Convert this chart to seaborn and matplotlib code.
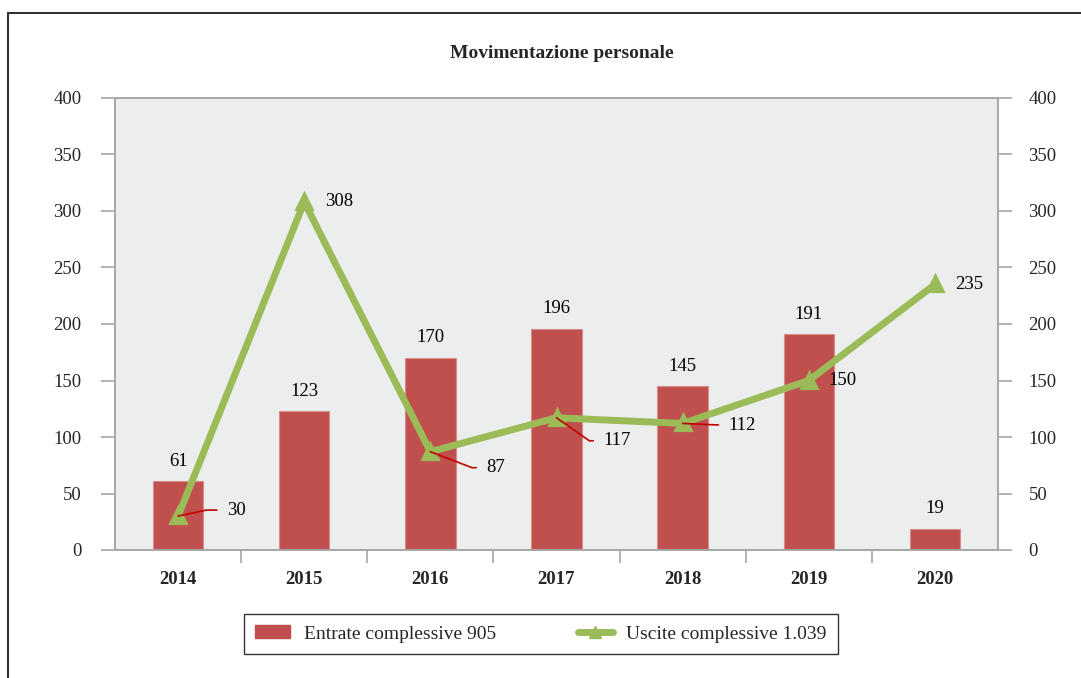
import matplotlib
matplotlib.use("Agg")
import matplotlib.pyplot as plt
import seaborn as sns
import pandas as pd
from matplotlib.lines import Line2D
from matplotlib.patches import Patch

years = ["2014", "2015", "2016", "2017", "2018", "2019", "2020"]
entrate = [61, 123, 170, 196, 145, 191, 19]
uscite = [30, 308, 87, 117, 112, 150, 235]
title = "Movimentazione personale"
label_entrate = "Entrate complessive 905"
label_uscite = "Uscite complessive 1.039"
yticks = [0, 50, 100, 150, 200, 250, 300, 350, 400]

sns.set_theme(style="white")
plt.rcParams["font.family"] = ["Liberation Serif", "DejaVu Serif"]

BAR = "#C0504D"
LINE = "#9BBB59"
GRID = "#A6A6A6"
FS = 13.5

df = pd.DataFrame({"anno": years, "entrate": entrate, "uscite": uscite})

fig = plt.figure(figsize=(10.81, 6.78), dpi=100)
ax = fig.add_axes([115/1081, 1-550/678, (998-115)/1081, (550-98)/678])
ax.set_facecolor("#ECEEED")

sns.barplot(data=df, x="anno", y="entrate", color=BAR, width=0.4, saturation=1,
            edgecolor="#D98C8A", linewidth=0.8, ax=ax, zorder=2)
sns.pointplot(data=df, x="anno", y="uscite", color=LINE, markers="^",
              linewidth=5, markersize=8.5, ax=ax, zorder=3)

ax.set_ylim(0, 400)
ax.set_xlim(-0.5, len(years) - 0.5)
ax.set_yticks(yticks)
ax.set_xlabel("")
ax.set_ylabel("")
for s in ax.spines.values():
    s.set_color(GRID)
    s.set_linewidth(1.2)

ax.tick_params(axis="y", direction="out", length=10, width=1.2, color=GRID,
               labelsize=FS, pad=14, left=True)
ax.tick_params(axis="x", which="major", length=0, labelsize=FS, pad=15)
for t in ax.get_xticklabels():
    t.set_fontweight("bold")
ax.set_xticks([i + 0.5 for i in range(len(years) - 1)], minor=True)
ax.tick_params(axis="x", which="minor", direction="out", length=9, width=1.2,
               color=GRID, bottom=True)

ax2 = ax.twinx()
ax2.set_ylim(0, 400)
ax2.set_yticks(yticks)
ax2.tick_params(axis="y", direction="out", length=10, width=1.2, color=GRID,
                labelsize=FS, pad=12, right=True)
for s in ax2.spines.values():
    s.set_color(GRID)
    s.set_linewidth(1.2)

# bar value labels
for i, v in enumerate(entrate):
    ax.annotate(str(v), (i, v), xytext=(0, 20), textcoords="offset pixels",
                ha="center", va="center", fontsize=FS, color="black")

# line value labels (offsets in pixels, angle of leader)
offsets = [(49, 6, 12), (21, 0, None), (56, -16, -21), (47, -23, -35),
           (46, -2, 0), (20, 0, None), (20, 0, None)]
for i, (v, (dx, dy, ang)) in enumerate(zip(uscite, offsets)):
    if ang is None:
        ax.annotate(str(v), (i, v), xytext=(dx, dy), textcoords="offset pixels",
                    ha="left", va="center", fontsize=FS, color="black", zorder=5)
    else:
        cs = "arc3" if ang == 0 else f"angle,angleA=0,angleB={ang},rad=0"
        ax.annotate(str(v), (i, v), xytext=(dx, dy), textcoords="offset pixels",
                    ha="left", va="center", fontsize=FS, color="black", zorder=5,
                    arrowprops=dict(arrowstyle="-", color="#C00000", lw=1.2,
                                    connectionstyle=cs, shrinkA=5, shrinkB=0,
                                    relpos=(0, 0.5)))

fig.text(562/1081, 1-54/678, title, ha="center", va="center",
         fontsize=14, fontweight="bold")

handles = [Patch(facecolor=BAR, edgecolor=BAR),
           Line2D([0], [0], color=LINE, lw=5, marker="^", markersize=9)]
leg = fig.legend(handles, [label_entrate, label_uscite], loc="center",
                 bbox_to_anchor=(541/1081, 1-634/678), ncol=2, fontsize=14,
                 frameon=True, fancybox=False, edgecolor="black",
                 handlelength=1.8, handleheight=0.6, handletextpad=0.7,
                 columnspacing=4.2, borderpad=0.6, borderaxespad=0)
leg.get_frame().set_linewidth(1.0)

# outer frame (top and left visible)
fig.add_artist(Line2D([8/1081, 1.0], [1-13/678, 1-13/678], color="#333333", lw=1.5,
                      transform=fig.transFigure))
fig.add_artist(Line2D([8/1081, 8/1081], [0, 1-13/678], color="#333333", lw=1.5,
                      transform=fig.transFigure))

fig.savefig("out.png", dpi=100)
